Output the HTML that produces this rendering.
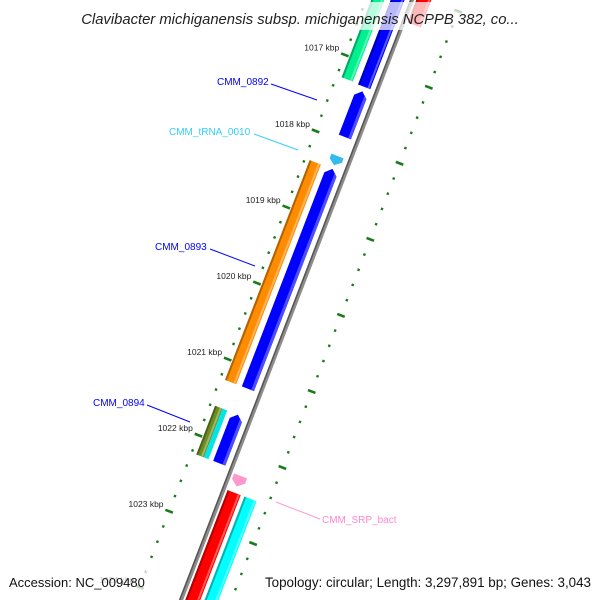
<!DOCTYPE html>
<html><head><meta charset="utf-8"><style>
html,body{margin:0;padding:0;background:#fff;overflow:hidden}
svg{display:block;font-family:"Liberation Sans","DejaVu Sans",sans-serif}
</style></head><body>
<svg id="map" width="600" height="600" viewBox="0 0 600 600" xmlns="http://www.w3.org/2000/svg">
<rect x="0" y="0" width="600" height="600" fill="#fff"/>
<g id="track" transform="translate(411,0) rotate(21.06)"></g>
<g id="labels">
  <line x1="271" y1="84" x2="317" y2="100" stroke="#0000ff" stroke-width="1"/>
  <text x="217" y="85" font-size="10" fill="#0000ff">CMM_0892</text>
  <line x1="254" y1="134" x2="298" y2="150" stroke="#33ccff" stroke-width="1"/>
  <text x="169" y="135" font-size="10" fill="#33ccff">CMM_tRNA_0010</text>
  <line x1="210" y1="249" x2="255" y2="266" stroke="#0000ff" stroke-width="1"/>
  <text x="155" y="250" font-size="10" fill="#0000ff">CMM_0893</text>
  <line x1="147" y1="405" x2="190" y2="422" stroke="#0000ff" stroke-width="1"/>
  <text x="93" y="406" font-size="10" fill="#0000ff">CMM_0894</text>
  <line x1="276" y1="502" x2="320" y2="519" stroke="#ff99cc" stroke-width="1"/>
  <text x="322" y="523" font-size="10" fill="#ff88cc">CMM_SRP_bact</text>
</g>
<g id="kbplabels"></g>
<rect x="74" y="2" width="452" height="28" fill="#fff" opacity="0.72"/>
<text x="300" y="24" font-size="14.8" font-style="italic" text-anchor="middle" fill="#222">Clavibacter michiganensis subsp. michiganensis NCPPB 382, co...</text>
<rect x="0" y="571" width="147" height="29" fill="#fff" opacity="0.75"/>
<rect x="257" y="571" width="343" height="29" fill="#fff" opacity="0.75"/>
<text x="9" y="587" font-size="13" fill="#111">Accession: NC_009480</text>
<text x="591" y="587" font-size="13.4" fill="#111" text-anchor="end">Topology: circular; Length: 3,297,891 bp; Genes: 3,043</text>
</svg>
<script>
// ---- data ----
const tickKbp = [1016, 1017, 1018, 1019, 1020, 1021, 1022, 1023, 1024, 1025];
const tickLabels = ["1016 kbp","1017 kbp","1018 kbp","1019 kbp","1020 kbp","1021 kbp","1022 kbp","1023 kbp","1024 kbp","1025 kbp"];
const featNames = ["cds-green-top","cds-blue-top","cds-cmm-0892","trna-cmm-0010","cds-cmm-0893","cds-orange","cds-olive","cds-cyan-narrow","cds-cmm-0894","srp-cmm-bact","cds-red-bottom","cds-cyan-bottom","cds-red-top"];
const featStart = [1016.0, 1016.0, 1017.34, 1018.19, 1018.36, 1018.36, 1021.59, 1021.59, 1021.59, 1022.28, 1022.50, 1022.50, 1015.5];
const featEnd   = [1017.27, 1017.28, 1017.94, 1018.31, 1021.25, 1021.25, 1022.23, 1022.23, 1022.23, 1022.42, 1025.2, 1025.2, 1016.35];
const featLane  = ["o2","i1","i1","i1","i1","o2","o2a","o2b","i1","p1","p1","p2","p1"];
const featColor = ["#00f090","#0000ff","#0000ff","#33bbee","#0000ff","#ff8c00","#6b8e23","#00e5e5","#0000ff","#ff99cc","#ff0000","#00ffff","#ff0000"];
const featShape = ["box","box","arrow","tri","arrow","box","box","box","arrow","tri","box","box","box"];

// ---- axes ----
const NS = "http://www.w3.org/2000/svg";
function sOf(k){ return 238 + (k - 1019) * 81.5; }
const lanes = {i1:[-19,-6], o2:[-37,-25], o2a:[-37,-29], o2b:[-29,-24], p1:[5,19], p2:[23,36]};
const A = 21.06*Math.PI/180, C = Math.cos(A), S = Math.sin(A);
function toScreen(o, s){ return [411 + o*C - s*S, o*S + s*C]; }
function shade(hex, f){
  const n=parseInt(hex.slice(1),16); let r=n>>16,g=(n>>8)&255,b=n&255;
  if(f<0){r=r*(1+f);g=g*(1+f);b=b*(1+f);} else {r=r+(255-r)*f;g=g+(255-g)*f;b=b+(255-b)*f;}
  return "rgb("+Math.round(r)+","+Math.round(g)+","+Math.round(b)+")";
}
const track = document.getElementById("track");
function mk(tag, attrs){ const e=document.createElementNS(NS,tag); for(const k in attrs) e.setAttribute(k,attrs[k]); return e; }

// backbone
const bb = mk("rect",{x:-1,y:-50,width:4,height:720,fill:"#8c8c8c"});


track.appendChild(bb);
const bb2 = mk("rect",{x:-1,y:-50,width:1.5,height:720,fill:"#555"});


track.appendChild(bb2);

// ticks (inner and outer rings)
const kMin = 1015.6, kMax = 1024.8;
for (let i = Math.ceil(kMin*5); i <= Math.floor(kMax*5); i++){
  const k = i/5, s = sOf(k), major = (i % 5 === 0);
  [-42, 48].forEach(function(o){
    const r = major ? mk("rect",{x:o-4,y:s-1.3,width:8,height:2.6,fill:"#1a7a1a"})
                    : mk("rect",{x:o-1.2,y:s-1.2,width:2.4,height:2.4,fill:"#1a7a1a"});
    
    
    track.appendChild(r);
  });
}

// features
for (let i = 0; i < featNames.length; i++){
  const L = lanes[featLane[i]], s1 = sOf(featStart[i]), s2 = sOf(featEnd[i]);
  const x1 = L[0], x2 = L[1], col = featColor[i];
  const g = mk("g",{});
  
  
  if (featShape[i] === "box"){
    g.appendChild(mk("rect",{x:x1,y:s1,width:x2-x1,height:s2-s1,fill:col}));
    if (x2-x1 > 7){
      g.appendChild(mk("rect",{x:x1,y:s1,width:2,height:s2-s1,fill:shade(col,-0.3)}));
      g.appendChild(mk("rect",{x:x2-3,y:s1,width:2,height:s2-s1,fill:shade(col,0.35)}));
    }
  } else if (featShape[i] === "arrow"){
    const m = (x1+x2)/2, h = 6;
    g.appendChild(mk("polygon",{points:[x1+","+(s1+h), m+","+s1, x2+","+(s1+h), x2+","+s2, x1+","+s2].join(" "), fill:col}));
    g.appendChild(mk("polygon",{points:[(x2-3)+","+(s1+h*0.5), x2+","+(s1+h), x2+","+s2, (x2-3)+","+s2].join(" "), fill:shade(col,0.3)}));
  } else {
    g.appendChild(mk("polygon",{points:[x1+","+s1, x2+","+s1, x2+","+((s1+s2)/2), ((x1+x2)/2)+","+s2, x1+","+((s1+s2)/2)].join(" "), fill:col}));
  }
  track.appendChild(g);
}

// kbp labels
const kl = document.getElementById("kbplabels");
for (let i = 0; i < tickKbp.length; i++){
  const p = toScreen(-48, sOf(tickKbp[i]));
  if (p[1] < 0 || p[1] > 598) continue;
  const t = mk("text",{x:p[0], y:p[1]-2, "font-size":8.5, fill:"#222", "text-anchor":"end"});
  t.textContent = tickLabels[i];
  
  
  kl.appendChild(t);
}
</script>
</body></html>
